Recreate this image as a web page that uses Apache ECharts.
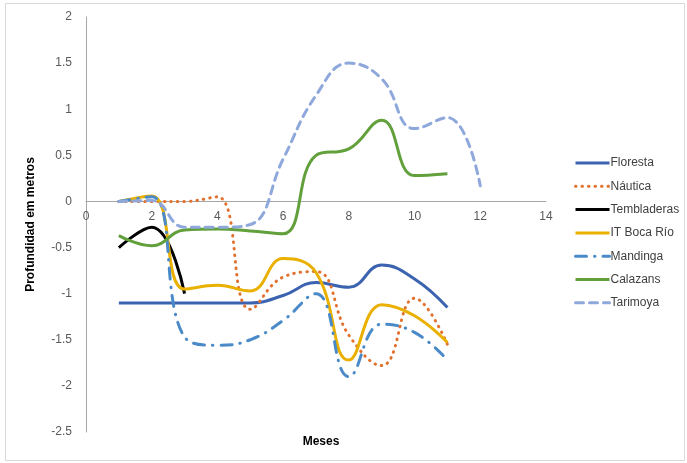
<!DOCTYPE html>
<html><head><meta charset="utf-8">
<script src="https://cdn.jsdelivr.net/npm/echarts@6/dist/echarts.min.js"></script>
<style>
html,body{margin:0;padding:0;background:#fff;}
#frame{position:absolute;left:5px;top:3px;width:680px;height:458px;border:1px solid #d9d9d9;box-sizing:border-box;}
#c{position:absolute;left:0;top:0;width:687px;height:463px;}
</style></head>
<body><div id="frame"></div><div id="c"></div>
<script>
const months = [1,2,3,4,5,6,7,8,9,10,11,12];
const xTicks = [0,2,4,6,8,10,12,14];
const yTicks = [-2.5,-2,-1.5,-1,-0.5,0,0.5,1,1.5,2];
const floresta    = [-1.1,-1.1,-1.1,-1.1,-1.1,-1.02,-0.88,-0.93,-0.69,-0.84,-1.15];
const nautica     = [0,0,0,0.05,-1.17,-0.82,-0.76,-1.45,-1.78,-1.05,-1.55];
const tembladeras = [-0.5,-0.28,-1.0];
const itBocaRio   = [0,0.06,-0.95,-0.91,-0.97,-0.62,-0.77,-1.72,-1.12,-1.24,-1.53];
const mandinga    = [0,0.05,-1.47,-1.56,-1.5,-1.29,-1.0,-1.9,-1.33,-1.42,-1.72];
const calazans    = [-0.37,-0.48,-0.31,-0.3,-0.32,-0.35,0.5,0.57,0.88,0.28,0.3];
const tarimoya    = [0,0.01,-0.28,-0.28,-0.25,0.46,1.15,1.5,1.33,0.79,0.91,0.17];

const pair = arr => arr.map((v,i)=>[months[i],v]);
const W = 3;
function s(name, data, color, type, cap){
  return {name, type:'line', data:pair(data), smooth:0.45, symbol:'none',
    lineStyle:{color, width:W, type:type||'solid', cap:cap||'butt'}, itemStyle:{color}};
}
const chart = echarts.init(document.getElementById('c'));
chart.setOption({
  animation:false,
  grid:{left:86,right:141,top:17,bottom:31},
  title:{text:'Meses',left:316,top:431,textAlign:'center',
    textStyle:{fontFamily:'Liberation Sans',fontSize:12,fontWeight:'bold',color:'#000'}},
  legend:{orient:'vertical',left:569,top:150,itemWidth:34,itemHeight:14,itemGap:7.3,
    itemStyle:{opacity:0},lineStyle:{width:3},
    textStyle:{fontFamily:'Liberation Sans',fontSize:12,color:'#404040',padding:[0,0,0,-4],
      lineHeight:16},
    padding:[5,5,5,5]},
  xAxis:{type:'value',min:0,max:14,interval:2,offset:-230.6,
    axisLine:{onZero:false,lineStyle:{color:'#a6a6a6',width:1}},
    axisTick:{show:false},splitLine:{show:false},
    axisLabel:{margin:9,color:'#595959',fontFamily:'Liberation Sans',fontSize:12,
      formatter:v=>xTicks.includes(v)?String(v):''}},
  yAxis:{type:'value',min:-2.5,max:2,interval:0.5,
    name:'Profundidad em metros',nameLocation:'middle',nameGap:49,
    nameTextStyle:{fontFamily:'Liberation Sans',fontSize:12,fontWeight:'bold',color:'#000'},
    axisLine:{show:true,lineStyle:{color:'#a6a6a6',width:1}},
    axisTick:{show:false},splitLine:{show:false},
    axisLabel:{margin:14,color:'#595959',fontFamily:'Liberation Sans',fontSize:12,
      formatter:v=>yTicks.includes(v)?String(v):''}},
  series:[
    s('Floresta',floresta,'#3c63b0'),
    s('Náutica',nautica,'#e2712e',[0.5,6],'round'),
    s('Tembladeras',tembladeras,'#000000'),
    s('IT Boca Río',itBocaRio,'#e9b000'),
    s('Mandinga',mandinga,'#4a8ac8',[11,8,0.5,8],'round'),
    s('Calazans',calazans,'#62a03c'),
    s('Tarimoya',tarimoya,'#8fa8dc',[8,6],'round')
  ]
});
</script></body></html>
